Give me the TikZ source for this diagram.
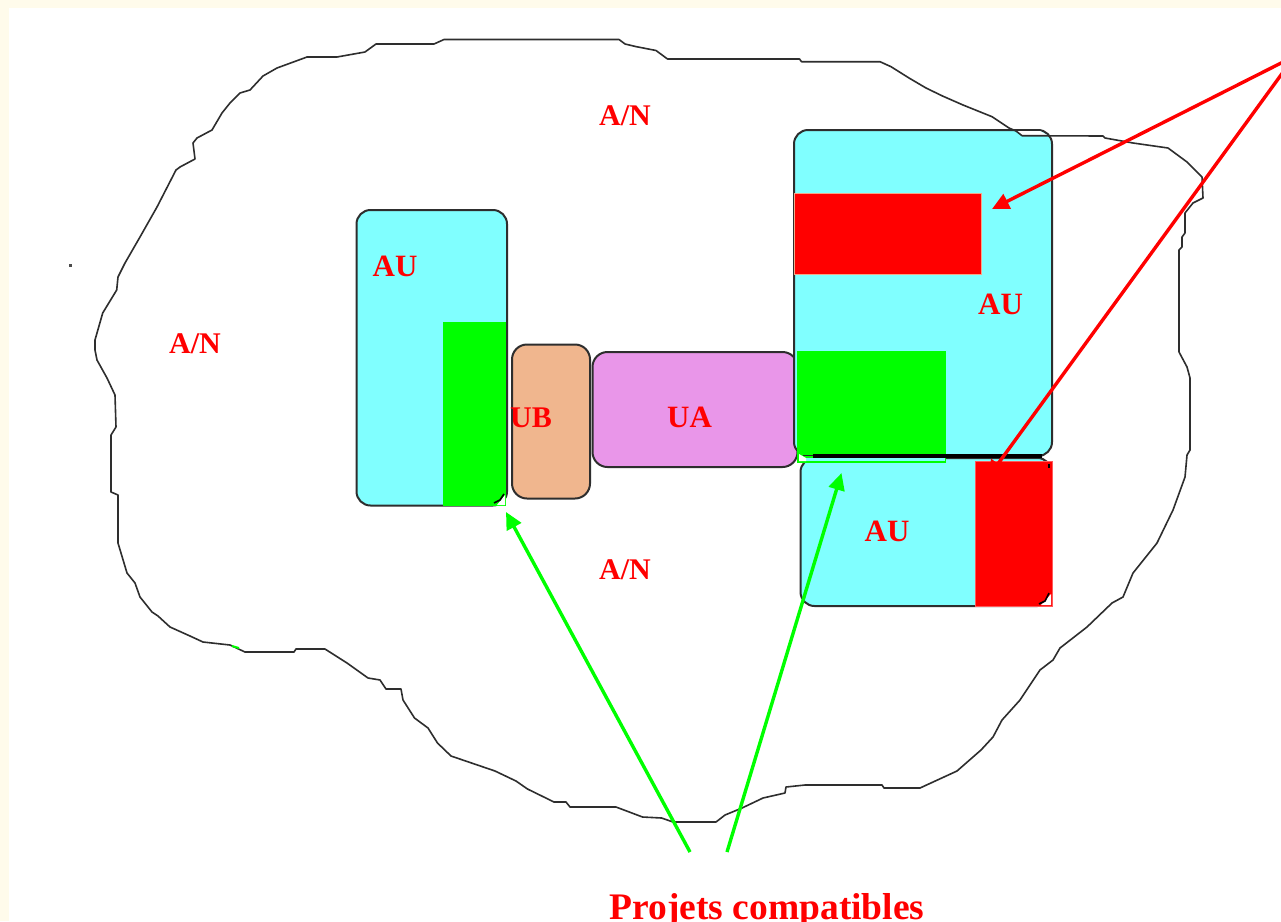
\documentclass[tikz,border=0pt]{standalone}
\usepackage{fontspec}
\setmainfont{Liberation Serif}
\usetikzlibrary{arrows.meta}
\definecolor{pagebg}{HTML}{FFFBEB}
\definecolor{aucyan}{HTML}{80FFFF}
\definecolor{ubfill}{HTML}{F0B68E}
\definecolor{uafill}{HTML}{E996E9}
\definecolor{pink}{HTML}{F4A888}
\definecolor{lime}{HTML}{00FF00}
\tikzset{
  box/.style={draw=black!82,line width=2pt,rounded corners=14pt,inner sep=0pt,outer sep=0pt,anchor=north west},
  aubox/.style={box,fill=aucyan},
  patch/.style={inner sep=0pt,outer sep=0pt,anchor=north west,line width=1pt},
  lab/.style={text=red,font=\bfseries\fontsize{31}{31}\selectfont,inner sep=0pt},
  anlab/.style={lab,font=\bfseries\fontsize{30}{30}\selectfont},
  redarrow/.style={draw=red,line width=3.4pt,-{Triangle[length=17pt,width=16pt]}},
  greenarrow/.style={draw=lime,line width=3.4pt,-{Triangle[length=17pt,width=16pt]}},
  outline/.style={draw=black!82,line width=1.6pt,line join=round}
}
\begin{document}
\begin{tikzpicture}[x=1pt,y=-1pt]
\useasboundingbox (0,0) rectangle (1281,921);
\clip (0,0) rectangle (1281,921);
\fill[pagebg] (0,0) rectangle (1281,921);
\fill[white] (9,8) rectangle (1281,921);
% zones
\node[aubox,minimum width=150.5pt,minimum height=295.5pt] (auleft) at (356.5,210) {};
\node[box,fill=ubfill,minimum width=78pt,minimum height=154pt,rounded corners=15pt] (ub) at (512,344.5) {};
\node[box,fill=uafill,minimum width=205pt,minimum height=115pt,rounded corners=15pt] (ua) at (592.5,352) {};
\node[aubox,minimum width=258pt,minimum height=326pt] (auup) at (794,130) {};
\node[aubox,minimum width=251pt,minimum height=148pt] (aulow) at (800.5,458) {};
% white sliver where the zone outline cuts the corner
\fill[white] (1016,131) -- (1040,131) -- (1047,135) -- (1022,135) -- cycle;
% outline of the zone
\draw[outline] (376,44) -- (434,44) -- (444,39.5) -- (619,39.5) -- (625,44) -- (635.5,46.5) -- (656,50.5)
 -- (667.5,59) -- (799.5,59) -- (801.5,61.7) -- (880,61.7) -- (891,66.7) -- (909,78) -- (926,88)
 -- (942.5,96) -- (963,105) -- (992,116.7) -- (1009,128) -- (1016,131) -- (1022,135.7) -- (1103,136)
 -- (1105,138) -- (1133,143) -- (1168,148) -- (1187,162) -- (1202,177) -- (1203,198) -- (1193,203)
 -- (1185,213) -- (1185,233) -- (1182,237) -- (1182,247) -- (1179,250) -- (1179,352) -- (1187,367)
 -- (1190,378) -- (1190,450) -- (1187,455) -- (1185,477) -- (1173,510) -- (1157,543) -- (1133,573)
 -- (1123,597) -- (1112,603) -- (1087,627) -- (1060,648) -- (1053,660) -- (1040,670) -- (1020,700)
 -- (1002,720) -- (993,737) -- (981,750) -- (957,771) -- (920,788) -- (884,788) -- (882,785)
 -- (805,785) -- (786,787) -- (785,793) -- (763,798) -- (742,808) -- (725,815) -- (716,822)
 -- (673,822) -- (661.6,818) -- (642.5,817) -- (616,807) -- (570,807) -- (566,802) -- (554,802)
 -- (527.5,789) -- (516,781) -- (495,771) -- (451,756) -- (437.5,743) -- (428,728) -- (414.5,718)
 -- (403,700) -- (401,689) -- (386,689) -- (380,680) -- (368,678) -- (347,663) -- (325,649)
 -- (296,649) -- (294,652) -- (245,652) -- (230,645) -- (203,642) -- (190,636) -- (170,627)
 -- (158,616) -- (152,612) -- (140,597) -- (135,583) -- (127,573) -- (118,543) -- (118,495)
 -- (111,492) -- (111,435) -- (116,427) -- (115,395) -- (107,378) -- (97,360) -- (95,350)
 -- (95,340) -- (102.7,313) -- (116.7,290) -- (118,277) -- (125,263) -- (140,237) -- (157,207)
 -- (176,170) -- (180,167) -- (195,159) -- (193,143) -- (197,138) -- (212,130) -- (222,113)
 -- (230,103) -- (240,93) -- (250,90) -- (263,76) -- (277,68) -- (307,57) -- (337,57) -- (365,52) -- cycle;
\draw[lime,line width=2pt] (232,646) -- (239,648);
\fill[black!70] (69,264) rectangle (72,267);
% projects
\node[patch,fill=red,draw=pink,minimum width=187.5pt,minimum height=81pt] (redup) at (794,193.5) {};
\node[patch,fill=red,draw=red!65,minimum width=77pt,minimum height=145.5pt] (redlow) at (975.5,461) {};
\node[patch,fill=lime,minimum width=63pt,minimum height=184pt] (greenleft) at (443,322) {};
\node[patch,fill=lime,draw=lime,minimum width=148pt,minimum height=111pt] (greenright) at (797.5,351) {};
\fill[aucyan] (804,458) rectangle (944.5,461);
\fill[white] (799,454) -- (806,458) -- (806,461) -- (799,461) -- cycle;
\draw[black,line width=3.6pt] (813,456) -- (1042,456);
\draw[black!85,line width=1.6pt] (803,455.5) -- (813,455.5);
% uncovered corners
\fill[white] (1051,594) -- (1051,605) -- (1041,605) -- cycle;
\draw[black,line width=1.6pt] (1039,604) -- (1045,601) -- (1049,593);
\fill[black] (1048,464) rectangle (1050,468);
\fill[white] (505,495) -- (505,505) -- (497,505) -- cycle;
\draw[black,line width=1.6pt] (494,503) -- (500,500) -- (504,494);
% labels
\node[anlab] (an1) at (625,115.5) {A/N};
\node[anlab] (an2) at (195,343.5) {A/N};
\node[anlab] (an3) at (625,569.5) {A/N};
\node[lab] (au1) at (395,266.5) {AU};
\node[lab] (au2) at (1000.5,304.5) {AU};
\node[lab] (au3) at (887,531.5) {AU};
\node[lab,font=\bfseries\fontsize{30}{30}\selectfont] (ublab) at (531,417.5) {UB};
\node[lab] (ualab) at (689.5,417.5) {UA};
\node[text=red,font=\bfseries\fontsize{37.5}{37.5}\selectfont,inner sep=0pt,anchor=base] (proj) at (767,919) {Projets compatibles};
% arrows
\coordinate (r1s) at (1290,58.5);
\coordinate (r1e) at (992,209);
\coordinate (r2s) at (1290,62.6);
\coordinate (r2e) at (988,477.5);
\coordinate (g1s) at (690,852);
\coordinate (g1e) at (506,512);
\coordinate (g2s) at (727,852);
\coordinate (g2e) at (841.5,473);
\draw[redarrow] (r1s) -- (r1e);
\draw[redarrow] (r2s) -- (r2e);
\draw[greenarrow] (g1s) -- (g1e);
\draw[greenarrow] (g2s) -- (g2e);
\end{tikzpicture}
\end{document}
